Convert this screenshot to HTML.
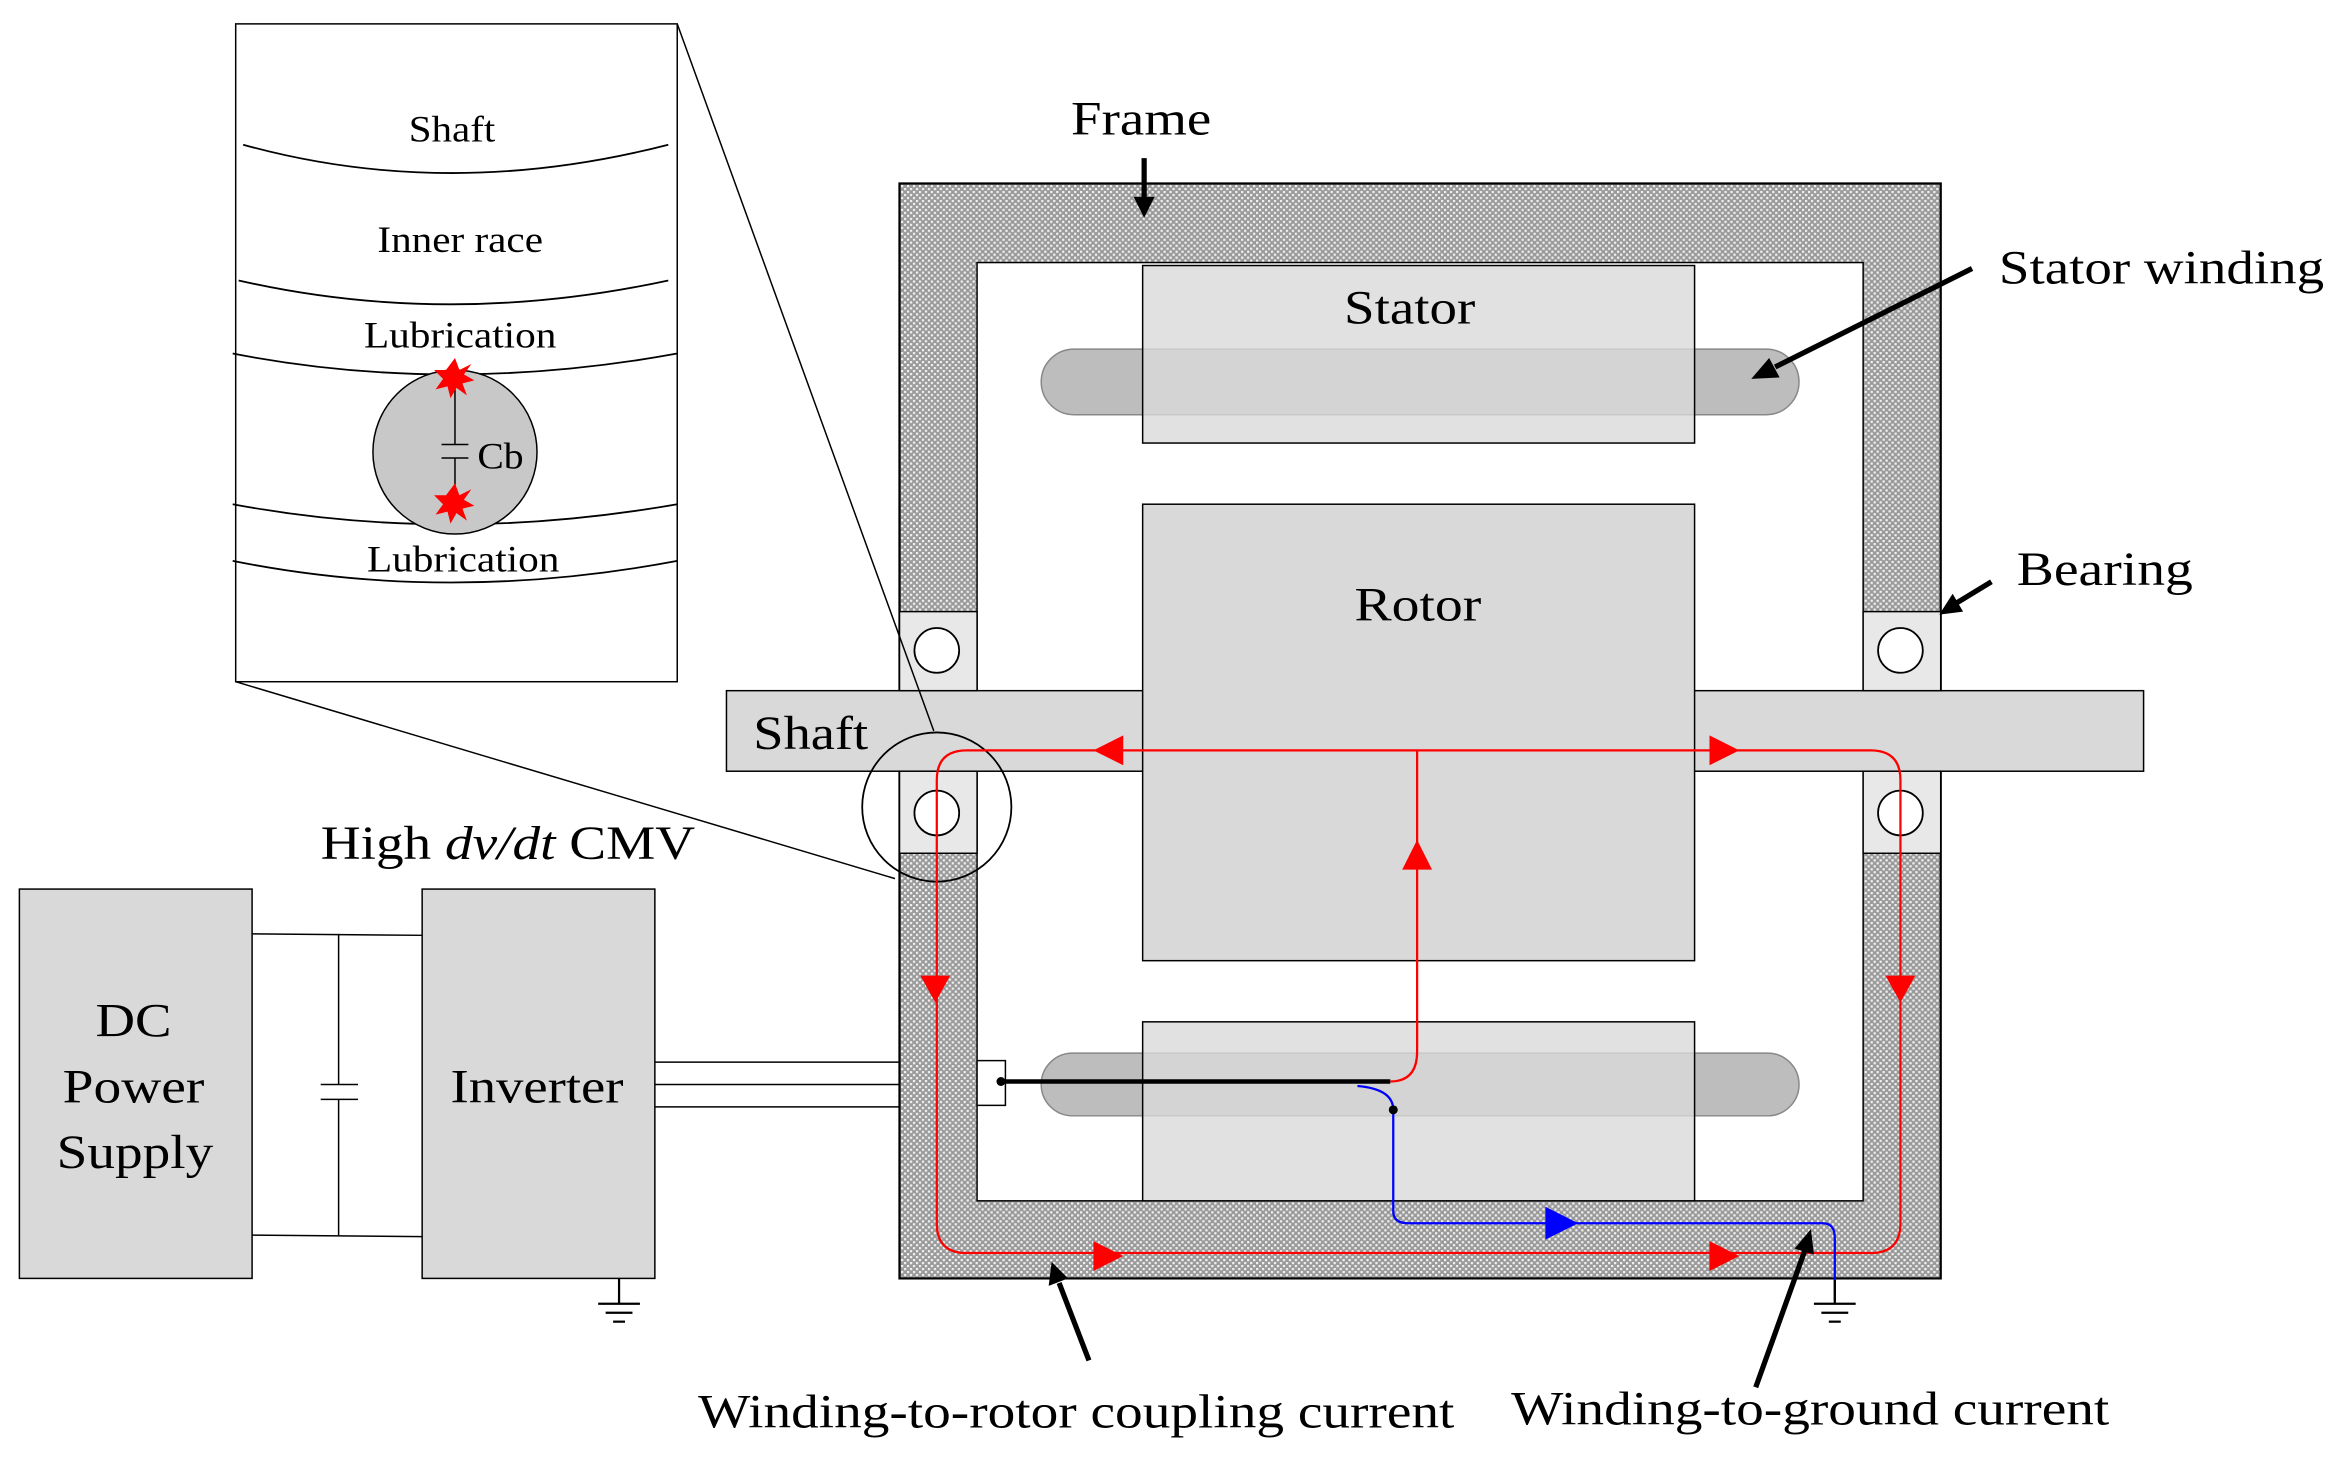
<!DOCTYPE html>
<html><head><meta charset="utf-8"><style>html,body{margin:0;padding:0;background:#fff}svg{display:block}text{font-family:"Liberation Serif",serif;fill:#000}</style></head>
<body>
<svg width="2339" height="1461" viewBox="0 0 1568 979.4" xmlns="http://www.w3.org/2000/svg">
<defs>
<pattern id="h" width="4" height="4" patternUnits="userSpaceOnUse">
<rect width="4" height="4" fill="#9a9a9a"/><rect x="0" y="0" width="1.5" height="1.5" fill="#f0f0f0"/><rect x="2" y="2" width="1.5" height="1.5" fill="#f0f0f0"/>
</pattern>
</defs>
<rect x="603" y="123" width="698" height="734" fill="url(#h)" stroke="#000" stroke-width="1.5"/>
<rect x="655" y="176" width="594" height="629" fill="#fff" stroke="#000" stroke-width="1"/>
<rect x="698" y="234" width="508" height="44" rx="22" fill="#bdbdbd" stroke="#888"/>
<rect x="766" y="178" width="370" height="119" fill="#d9d9d9" fill-opacity="0.8" stroke="#000"/>
<rect x="698" y="706" width="508" height="42" rx="21" fill="#bdbdbd" stroke="#888"/>
<rect x="766" y="685" width="370" height="120" fill="#d9d9d9" fill-opacity="0.8" stroke="#000"/>
<rect x="487" y="463" width="950" height="54" fill="#d9d9d9" stroke="#000"/>
<rect x="766" y="338" width="370" height="306" fill="#d9d9d9" stroke="#000"/>
<g fill="#e8e8e8" stroke="#000">
<rect x="603" y="410" width="52" height="53"/><rect x="603" y="517" width="52" height="55"/>
<rect x="1249" y="410" width="52" height="53"/><rect x="1249" y="517" width="52" height="55"/>
</g>
<g fill="#fff" stroke="#000" stroke-width="1.2">
<circle cx="628" cy="436" r="15"/><circle cx="628" cy="545" r="15"/>
<circle cx="1274" cy="436" r="15"/><circle cx="1274" cy="545" r="15"/>
</g>
<circle cx="628" cy="541" r="50" fill="none" stroke="#000" stroke-width="1.2"/>
<g fill="none" stroke="#f00" stroke-width="1.5">
<path d="M932 725 Q950 725 950 705 L950 503"/>
<path d="M648 503 L1254 503 Q1274 503 1274 523 L1274 820 Q1274 840 1254 840 L648 840 Q628 840 628 820 L628 523 Q628 503 648 503"/>
</g>
<g fill="#f00">
<polygon points="733,503 753,493 753,513"/>
<polygon points="1166,503 1146,493 1146,513"/>
<polygon points="950,563 940,583 960,583"/>
<polygon points="627,672 617,654 637,654"/>
<polygon points="1274,672 1264,654 1284,654"/>
<polygon points="753,842 733,832 733,852"/>
<polygon points="1166,842 1146,832 1146,852"/>
</g>
<path d="M910 728 Q934 730 934 744 L934 812 Q934 820 944 820 L1222 820 Q1230 820 1230 830 L1230 872" fill="none" stroke="#00f" stroke-width="1.5"/>
<polygon points="1058,820 1036,809 1036,831" fill="#00f"/>
<rect x="655" y="711" width="19" height="30" fill="#fff" stroke="#000"/>
<line x1="671" y1="725" x2="932" y2="725" stroke="#000" stroke-width="3"/>
<circle cx="671" cy="725" r="3"/><circle cx="934" cy="744" r="3"/>
<g stroke="#000" stroke-width="1.5">
<line x1="1230" y1="858" x2="1230" y2="874"/><line x1="1216" y1="874" x2="1244" y2="874"/><line x1="1221" y1="880" x2="1239" y2="880"/><line x1="1226" y1="886" x2="1234" y2="886"/>
<line x1="415" y1="857" x2="415" y2="874"/><line x1="401" y1="874" x2="429" y2="874"/><line x1="406" y1="880" x2="424" y2="880"/><line x1="411" y1="886" x2="419" y2="886"/>
</g>
<rect x="13" y="596" width="156" height="261" fill="#d9d9d9" stroke="#000"/>
<rect x="283" y="596" width="156" height="261" fill="#d9d9d9" stroke="#000"/>
<g stroke="#000" stroke-width="1">
<line x1="169" y1="626" x2="283" y2="627"/><line x1="169" y1="828" x2="283" y2="829"/>
<line x1="227" y1="626" x2="227" y2="727"/><line x1="227" y1="737" x2="227" y2="828"/>
<line x1="215" y1="727" x2="240" y2="727"/><line x1="215" y1="737" x2="240" y2="737"/>
<line x1="439" y1="712" x2="603" y2="712"/><line x1="439" y1="727" x2="603" y2="727"/><line x1="439" y1="742" x2="603" y2="742"/>
</g>
<rect x="158" y="16" width="296" height="441" fill="#fff" stroke="#000"/>
<g stroke="#000" stroke-width="1">
<line x1="454" y1="16" x2="626" y2="490"/><line x1="158" y1="457" x2="600" y2="589"/>
</g>
<g fill="none" stroke="#000" stroke-width="1.2">
<path d="M163 97 Q300 135 448 97"/>
<path d="M160 188 Q300 220 448 188"/>
<path d="M156 237 Q300 265 454 237"/>
<path d="M156 338 Q300 365 454 338"/>
<path d="M156 376 Q300 405 454 376"/>
</g>
<circle cx="305" cy="303" r="55" fill="#c8c8c8" stroke="#000"/>
<g stroke="#000"><line x1="305" y1="253" x2="305" y2="298"/><line x1="305" y1="307" x2="305" y2="338"/><line x1="296" y1="298" x2="314" y2="298"/><line x1="296" y1="307" x2="314" y2="307"/></g>
<g fill="#f00">
<polygon points="305,240 308,248 316,244 311,251 318,255 310,257 313,265 306,260 302,267 300,259 292,261 297,254 291,248 299,248"/>
<polygon points="305,324 308,332 316,328 311,335 318,339 310,341 313,349 306,344 302,351 300,343 292,345 297,338 291,332 299,332"/>
</g>
<g font-size="25" lengthAdjust="spacingAndGlyphs">
<text x="274" y="95" textLength="58" lengthAdjust="spacingAndGlyphs">Shaft</text>
<text x="253" y="169" textLength="111" lengthAdjust="spacingAndGlyphs">Inner race</text>
<text x="244" y="233" textLength="129" lengthAdjust="spacingAndGlyphs">Lubrication</text>
<text x="320" y="314" textLength="31" lengthAdjust="spacingAndGlyphs">Cb</text>
<text x="246" y="383" textLength="129" lengthAdjust="spacingAndGlyphs">Lubrication</text>
</g>
<g font-size="32">
<text x="718" y="90" textLength="94" lengthAdjust="spacingAndGlyphs">Frame</text>
<text x="901" y="217" textLength="88" lengthAdjust="spacingAndGlyphs">Stator</text>
<text x="908" y="416" textLength="85" lengthAdjust="spacingAndGlyphs">Rotor</text>
<text x="505" y="502" textLength="77" lengthAdjust="spacingAndGlyphs">Shaft</text>
<text x="1340" y="190" textLength="218" lengthAdjust="spacingAndGlyphs">Stator winding</text>
<text x="1352" y="392" textLength="118" lengthAdjust="spacingAndGlyphs">Bearing</text>
<text x="215" y="576" textLength="251" lengthAdjust="spacingAndGlyphs">High <tspan font-style="italic">dv/dt</tspan> CMV</text>
<text x="64" y="695" textLength="51" lengthAdjust="spacingAndGlyphs">DC</text>
<text x="42" y="739" textLength="95" lengthAdjust="spacingAndGlyphs">Power</text>
<text x="38" y="783" textLength="105" lengthAdjust="spacingAndGlyphs">Supply</text>
<text x="302" y="739" textLength="116" lengthAdjust="spacingAndGlyphs">Inverter</text>
<text x="468" y="957" textLength="507" lengthAdjust="spacingAndGlyphs">Winding-to-rotor coupling current</text>
<text x="1013" y="955" textLength="401" lengthAdjust="spacingAndGlyphs">Winding-to-ground current</text>
</g>
<g stroke="#000" stroke-width="3.5" fill="#000">
<line x1="767" y1="106" x2="767" y2="136"/><polygon points="767,146 760,132 774,132" stroke="none"/>
<line x1="1322" y1="180" x2="1190" y2="246"/><polygon points="1174,254 1186,240 1193,253" stroke="none"/>
<line x1="1335" y1="390" x2="1312" y2="404"/><polygon points="1300,412 1309,398 1316,410" stroke="none"/>
<line x1="730" y1="912" x2="710" y2="860"/><polygon points="705,846 703,862 716,857" stroke="none"/>
<line x1="1177" y1="930" x2="1210" y2="838"/><polygon points="1214,824 1203,837 1216,841" stroke="none"/>
</g>
</svg>
</body></html>
